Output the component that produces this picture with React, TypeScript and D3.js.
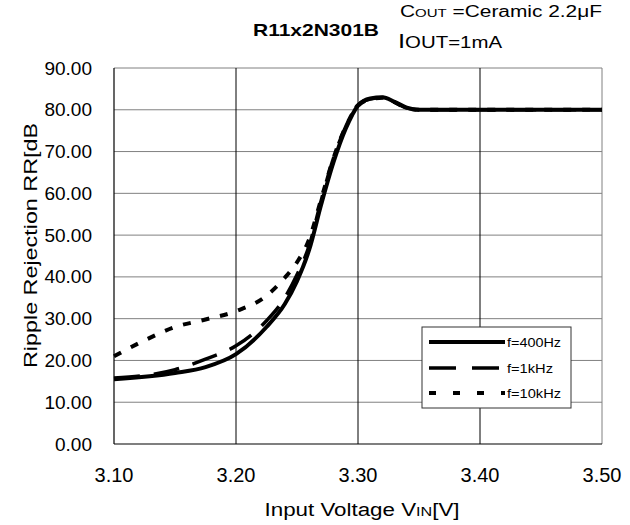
import React from "react";
import * as d3 from "d3";

const xTicks = [3.1, 3.2, 3.3, 3.4, 3.5];
const yTicks = [0, 10, 20, 30, 40, 50, 60, 70, 80, 90];

const vin400 = [3.10, 3.15, 3.175, 3.20, 3.225, 3.24, 3.25, 3.26, 3.27, 3.28, 3.29, 3.30, 3.31, 3.32, 3.33, 3.34, 3.35, 3.40, 3.50];
const rr400 = [15.5, 17.0, 18.4, 21.5, 28.0, 33.5, 39.0, 46.5, 57.5, 67.5, 75.5, 81.0, 82.7, 83.0, 81.9, 80.5, 80.0, 80.0, 80.0];

const vin1k = [3.10, 3.15, 3.175, 3.20, 3.225, 3.24, 3.25, 3.26, 3.27, 3.28, 3.29, 3.30, 3.31, 3.32, 3.33, 3.34, 3.35, 3.40, 3.50];
const rr1k = [15.8, 17.8, 20.3, 23.5, 29.5, 35.0, 40.5, 47.5, 58.5, 68.5, 76.0, 81.2, 82.6, 82.9, 81.8, 80.4, 80.0, 80.0, 80.0];

const vin10k = [3.10, 3.125, 3.15, 3.175, 3.20, 3.225, 3.24, 3.25, 3.26, 3.27, 3.28, 3.29, 3.30, 3.31, 3.32, 3.33, 3.34, 3.35, 3.40, 3.50];
const rr10k = [21.0, 24.8, 28.0, 29.8, 31.8, 35.5, 39.8, 43.5, 49.0, 58.8, 68.5, 76.0, 81.0, 82.5, 82.9, 81.8, 80.4, 80.0, 80.0, 80.0];

const seriesNames = ["f=400Hz", "f=1kHz", "f=10kHz"];

const FONT = "'Liberation Sans', Arial, sans-serif";

export default function App() {
  const W = 630, H = 525;
  const left = 114, right = 602, top = 68, bottom = 444;
  const x = d3.scaleLinear().domain([3.1, 3.5]).range([left, right]);
  const y = d3.scaleLinear().domain([0, 90]).range([bottom, top]);
  const line = d3
    .line<[number, number]>()
    .x((d) => x(d[0]))
    .y((d) => y(d[1]))
    .curve(d3.curveMonotoneX);

  const s400 = vin400.map((v, i) => [v, rr400[i]] as [number, number]);
  const s1k = vin1k.map((v, i) => [v, rr1k[i]] as [number, number]);
  const s10k = vin10k.map((v, i) => [v, rr10k[i]] as [number, number]);

  const styles = [
    { w: 4, dash: "none" },
    { w: 3.5, dash: "26,14" },
    { w: 4, dash: "8,11" },
  ];

  const legX = 422, legY = 327, legW = 149, legH = 81;
  const rowYs = [342, 368, 393];
  const legTextW = [54, 46, 54];

  return (
    <svg width={W} height={H} style={{ position: "absolute", left: 0, top: 0 }} fontFamily={FONT}>
      <rect x={0} y={0} width={W} height={H} fill="#fff" />
      {yTicks.filter((t) => t > 0).map((t) => (
        <line key={"h" + t} x1={left} x2={right} y1={y(t)} y2={y(t)} stroke="#808080" strokeWidth={1} />
      ))}
      <line x1={right} x2={right} y1={top} y2={bottom} stroke="#808080" strokeWidth={1} />
      {xTicks.slice(1, -1).map((t) => (
        <line key={"v" + t} x1={x(t)} x2={x(t)} y1={top} y2={bottom} stroke="#000" strokeWidth={1} />
      ))}
      <line x1={left} x2={left} y1={top} y2={bottom} stroke="#000" strokeWidth={1.2} />
      <line x1={left} x2={right} y1={bottom} y2={bottom} stroke="#000" strokeWidth={1.2} />

      {yTicks.map((t) => (
        <text key={"yl" + t} x={92} y={y(t) + 6.5} fontSize={19} textAnchor="end" fill="#000">
          {t.toFixed(2)}
        </text>
      ))}
      {xTicks.map((t) => (
        <text key={"xl" + t} x={x(t)} y={482} fontSize={20} textAnchor="middle" fill="#000">
          {t.toFixed(2)}
        </text>
      ))}

      <path d={line(s10k) || ""} fill="none" stroke="#000" strokeWidth={styles[2].w} strokeDasharray={styles[2].dash} />
      <path d={line(s1k) || ""} fill="none" stroke="#000" strokeWidth={styles[1].w} strokeDasharray={styles[1].dash} />
      <path d={line(s400) || ""} fill="none" stroke="#000" strokeWidth={styles[0].w} />

      <rect x={legX} y={legY} width={legW} height={legH} fill="#fff" stroke="#333" strokeWidth={1} />
      {seriesNames.map((n, i) => (
        <g key={n}>
          <line
            x1={429}
            x2={505}
            y1={rowYs[i]}
            y2={rowYs[i]}
            stroke="#000"
            strokeWidth={i === 1 ? 3.5 : 4}
            strokeDasharray={i === 0 ? "none" : i === 1 ? "27,16" : "7,17"}
          />
          <text x={507} y={rowYs[i] + 5} fontSize={12} textLength={legTextW[i]} lengthAdjust="spacingAndGlyphs">
            {n}
          </text>
        </g>
      ))}

      <text x={253} y={36} fontSize={17} fontWeight="bold" textLength={126} lengthAdjust="spacingAndGlyphs">
        R11x2N301B
      </text>
      <text x={400} y={17} fontSize={16} textLength={202} lengthAdjust="spacingAndGlyphs">
        C<tspan fontSize={11.5}>OUT</tspan> =Ceramic 2.2μF
      </text>
      <text x={398} y={48} fontSize={16} textLength={104} lengthAdjust="spacingAndGlyphs">
        <tspan fontSize={20}>I</tspan>OUT=1mA
      </text>

      <text
        transform={`translate(36.5,245.5) rotate(-90)`}
        fontSize={18}
        textAnchor="middle"
        textLength={245}
        lengthAdjust="spacingAndGlyphs"
      >
        Ripple Rejection RR[dB
      </text>
      <text x={362} y={516} fontSize={18} textAnchor="middle" textLength={195} lengthAdjust="spacingAndGlyphs">
        Input Voltage V<tspan fontSize={13}>IN</tspan>[V]
      </text>
    </svg>
  );
}
